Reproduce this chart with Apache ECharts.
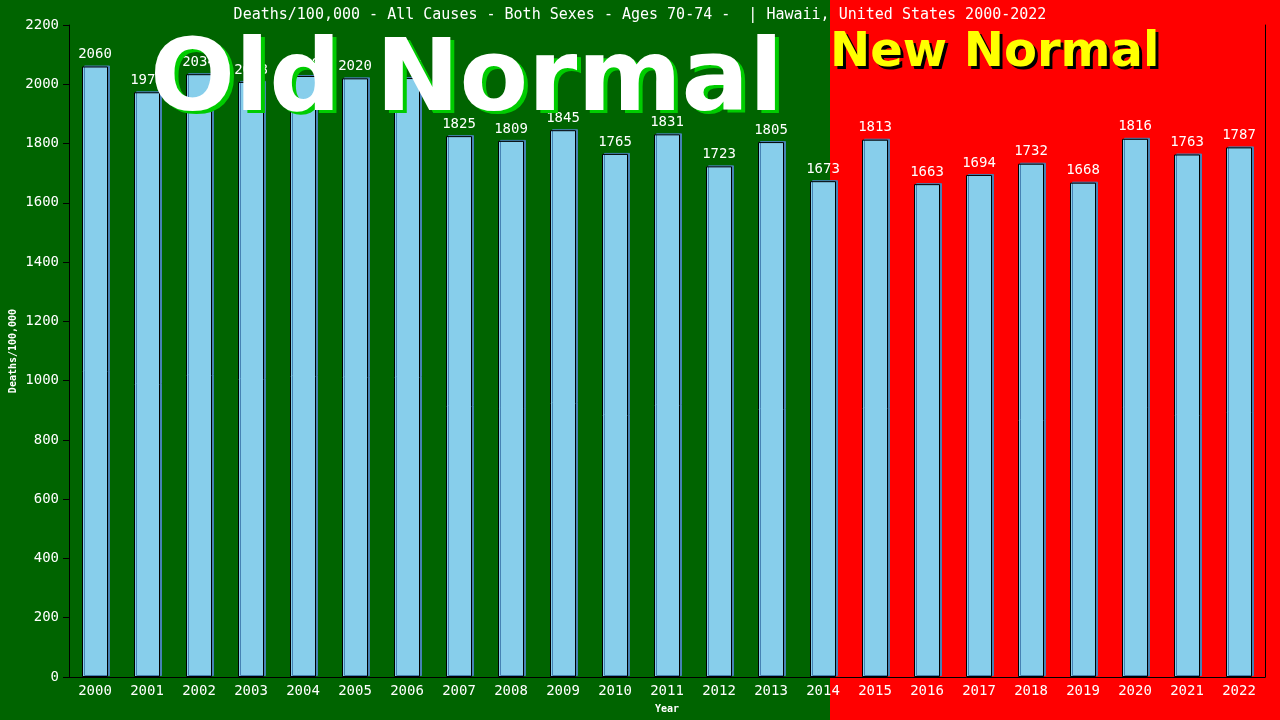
<!DOCTYPE html>
<html>
<head>
<meta charset="utf-8">
<script src="https://cdn.jsdelivr.net/npm/echarts@6/dist/echarts.min.js"></script>
<style>
  html, body { margin: 0; padding: 0; }
  #chart { width: 1280px; height: 720px; }
</style>
</head>
<body>
<div id="chart"></div>
<script>
const years = ['2000', '2001', '2002', '2003', '2004', '2005', '2006', '2007', '2008', '2009', '2010', '2011',
  '2012', '2013', '2014', '2015', '2016', '2017', '2018', '2019', '2020', '2021', '2022']
const deaths = [2060, 1973, 2034, 2008, 2028, 2020, 2021, 1825, 1809, 1845, 1765, 1831,
  1723, 1805, 1673, 1813, 1663, 1694, 1732, 1668, 1816, 1763, 1787]

const mono = 'DejaVu Sans Mono'
const chartDom = document.getElementById('chart')
const myChart = echarts.init(chartDom)

const option = {
  animation: false,
  backgroundColor: '#006400',
  title: {
    text: 'Deaths/100,000 - All Causes - Both Sexes - Ages 70-74 -  | Hawaii, United States 2000-2022',
    left: 'center',
    top: 3,
    textStyle: { color: '#fff', fontFamily: mono, fontSize: 15, fontWeight: 'normal' }
  },
  graphic: [
    // red "new normal" half of the background
    { type: 'rect', z: -10, silent: true, shape: { x: 830, y: 0, width: 450, height: 720 }, style: { fill: '#ff0000' } },
    { type: 'text', z: 100, left: 154, top: 37, style: { text: 'Old Normal', fill: '#00cc00', font: 'bold 100px "DejaVu Sans"' } },
    { type: 'text', z: 101, left: 150, top: 34, style: { text: 'Old Normal', fill: '#ffffff', font: 'bold 100px "DejaVu Sans"' } },
    { type: 'text', z: 100, left: 833, top: 33, style: { text: 'New Normal', fill: '#000000', font: 'bold 48px "DejaVu Sans"' } },
    { type: 'text', z: 101, left: 830, top: 30, style: { text: 'New Normal', fill: '#ffff00', font: 'bold 48px "DejaVu Sans"' } }
  ],
  grid: { left: 69, right: 15, top: 25, bottom: 43, outerBoundsMode: 'none', containLabel: false },
  xAxis: {
    type: 'category',
    data: years,
    name: 'Year',
    nameLocation: 'middle',
    nameGap: 27,
    nameMoveOverlap: false,
    nameTextStyle: { color: '#fff', fontFamily: mono, fontSize: 10, fontWeight: 'bold' },
    axisLine: { lineStyle: { color: '#000', width: 1 } },
    axisTick: { show: false },
    axisLabel: { color: '#fff', fontFamily: mono, fontSize: 14, margin: 7, interval: 0 }
  },
  yAxis: [
    {
      type: 'value',
      min: 0,
      max: 2200,
      interval: 200,
      name: 'Deaths/100,000',
      nameLocation: 'middle',
      nameGap: 51,
      nameMoveOverlap: false,
      nameTextStyle: { color: '#fff', fontFamily: mono, fontSize: 10, fontWeight: 'bold' },
      axisLine: { show: true, lineStyle: { color: '#000' } },
      axisTick: { show: true, length: 6, lineStyle: { color: '#000' } },
      axisLabel: { color: '#fff', fontFamily: mono, fontSize: 14, margin: 10, formatter: v => String(v) },
      splitLine: { show: false }
    },
    {
      type: 'value',
      min: 0,
      max: 2200,
      position: 'right',
      axisLine: { show: true, lineStyle: { color: '#000' } },
      axisTick: { show: false },
      axisLabel: { show: false },
      splitLine: { show: false }
    }
  ],
  series: [
    {
      type: 'bar',
      data: deaths,
      barWidth: '50%',
      itemStyle: {
        color: '#87ceeb',
        borderColor: '#000',
        borderWidth: 1,
        shadowColor: '#4682b4',
        shadowOffsetX: 2,
        shadowOffsetY: -1,
        shadowBlur: 0
      },
      label: {
        show: true,
        position: 'top',
        distance: 5,
        color: '#fff',
        fontFamily: mono,
        fontSize: 14
      }
    }
  ]
}
option && myChart.setOption(option)
</script>
</body>
</html>
